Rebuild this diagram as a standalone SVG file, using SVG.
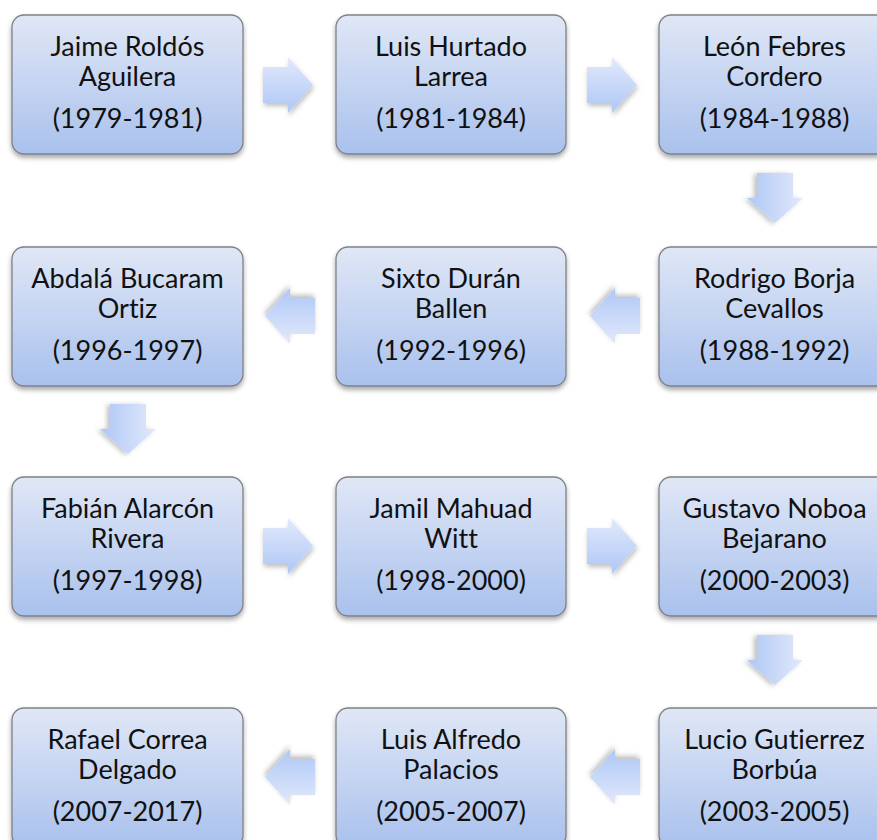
<svg xmlns="http://www.w3.org/2000/svg" width="877" height="840" viewBox="0 0 877 840">
  <defs>
    <linearGradient id="boxFill" x1="0" y1="0" x2="0" y2="1">
      <stop offset="0" stop-color="#e0e7f6"/>
      <stop offset="1" stop-color="#a9c1ed"/>
    </linearGradient>
    <linearGradient id="arrowFillV" x1="0" y1="0" x2="0" y2="1">
      <stop offset="0" stop-color="#e2e9fb"/>
      <stop offset="1" stop-color="#aec7f6"/>
    </linearGradient>
    <filter id="shadow" x="-20%" y="-20%" width="140%" height="150%">
      <feDropShadow dx="0" dy="3" stdDeviation="2.5" flood-color="#000" flood-opacity="0.35"/>
    </filter>
    <filter id="arrowShadow" x="-30%" y="-30%" width="160%" height="170%">
      <feDropShadow dx="1" dy="3" stdDeviation="2.5" flood-color="#000" flood-opacity="0.25"/>
    </filter>
    <!-- block arrow pointing right, 50 wide, 56 tall, origin at its centre -->
    <path id="arrowRight" d="M-25,-18 H0 V-28 L25,0 L0,28 V18 H-25 Z"/>
  </defs>
  <style>
    .box { fill: url(#boxFill); stroke: #7f8186; stroke-width: 1.3; filter: url(#shadow); }
    .arrow { fill: url(#arrowFillV); filter: url(#arrowShadow); }
    text { font-family: Lato, "Open Sans", "Liberation Sans", sans-serif; font-size: 27px; fill: #111; text-anchor: middle; font-variant-ligatures: none; font-feature-settings: "liga" 0, "dlig" 0; }
  </style>

  <!-- connectors -->
  <g id="connectors">
    <use href="#arrowRight" class="arrow" transform="translate(288,85)"/>
    <use href="#arrowRight" class="arrow" transform="translate(612,85)"/>
    <use href="#arrowRight" class="arrow" transform="translate(775,198) rotate(90)"/>
    <use href="#arrowRight" class="arrow" transform="translate(615,316) rotate(180)"/>
    <use href="#arrowRight" class="arrow" transform="translate(290,316) rotate(180)"/>
    <use href="#arrowRight" class="arrow" transform="translate(128,429) rotate(90)"/>
    <use href="#arrowRight" class="arrow" transform="translate(288,546)"/>
    <use href="#arrowRight" class="arrow" transform="translate(612,546)"/>
    <use href="#arrowRight" class="arrow" transform="translate(775,660) rotate(90)"/>
    <use href="#arrowRight" class="arrow" transform="translate(615,777) rotate(180)"/>
    <use href="#arrowRight" class="arrow" transform="translate(290,777) rotate(180)"/>
  </g>

  <!-- row 1 -->
  <g id="roldos">
    <rect class="box" x="12" y="15" width="231" height="139" rx="12"/>
    <text x="127.5" y="56">Jaime Roldós</text>
    <text x="127.5" y="86">Aguilera</text>
    <text x="127.5" y="128">(1979-1981)</text>
  </g>
  <g id="hurtado">
    <rect class="box" x="336" y="15" width="230" height="139" rx="12"/>
    <text x="451" y="56">Luis Hurtado</text>
    <text x="451" y="86">Larrea</text>
    <text x="451" y="128">(1981-1984)</text>
  </g>
  <g id="febres-cordero">
    <rect class="box" x="659" y="15" width="231" height="139" rx="12"/>
    <text x="774.5" y="56">León Febres</text>
    <text x="774.5" y="86">Cordero</text>
    <text x="774.5" y="128">(1984-1988)</text>
  </g>

  <!-- row 2 -->
  <g id="borja">
    <rect class="box" x="659" y="247" width="231" height="139" rx="12"/>
    <text x="774.5" y="288">Rodrigo Borja</text>
    <text x="774.5" y="318">Cevallos</text>
    <text x="774.5" y="360">(1988-1992)</text>
  </g>
  <g id="duran-ballen">
    <rect class="box" x="336" y="247" width="230" height="139" rx="12"/>
    <text x="451" y="288">Sixto Durán</text>
    <text x="451" y="318">Ballen</text>
    <text x="451" y="360">(1992-1996)</text>
  </g>
  <g id="bucaram">
    <rect class="box" x="12" y="247" width="231" height="139" rx="12"/>
    <text x="127.5" y="288">Abdalá Bucaram</text>
    <text x="127.5" y="318">Ortiz</text>
    <text x="127.5" y="360">(1996-1997)</text>
  </g>

  <!-- row 3 -->
  <g id="alarcon">
    <rect class="box" x="12" y="477" width="231" height="139" rx="12"/>
    <text x="127.5" y="518">Fabián Alarcón</text>
    <text x="127.5" y="548">Rivera</text>
    <text x="127.5" y="590">(1997-1998)</text>
  </g>
  <g id="mahuad">
    <rect class="box" x="336" y="477" width="230" height="139" rx="12"/>
    <text x="451" y="518">Jamil Mahuad</text>
    <text x="451" y="548">Witt</text>
    <text x="451" y="590">(1998-2000)</text>
  </g>
  <g id="noboa">
    <rect class="box" x="659" y="477" width="231" height="139" rx="12"/>
    <text x="774.5" y="518">Gustavo Noboa</text>
    <text x="774.5" y="548">Bejarano</text>
    <text x="774.5" y="590">(2000-2003)</text>
  </g>

  <!-- row 4 -->
  <g id="gutierrez">
    <rect class="box" x="659" y="708" width="231" height="139" rx="12"/>
    <text x="774.5" y="749">Lucio Gutierrez</text>
    <text x="774.5" y="779">Borbúa</text>
    <text x="774.5" y="821">(2003-2005)</text>
  </g>
  <g id="palacios">
    <rect class="box" x="336" y="708" width="230" height="139" rx="12"/>
    <text x="451" y="749">Luis Alfredo</text>
    <text x="451" y="779">Palacios</text>
    <text x="451" y="821">(2005-2007)</text>
  </g>
  <g id="correa">
    <rect class="box" x="12" y="708" width="231" height="139" rx="12"/>
    <text x="127.5" y="749">Rafael Correa</text>
    <text x="127.5" y="779">Delgado</text>
    <text x="127.5" y="821">(2007-2017)</text>
  </g>
</svg>
